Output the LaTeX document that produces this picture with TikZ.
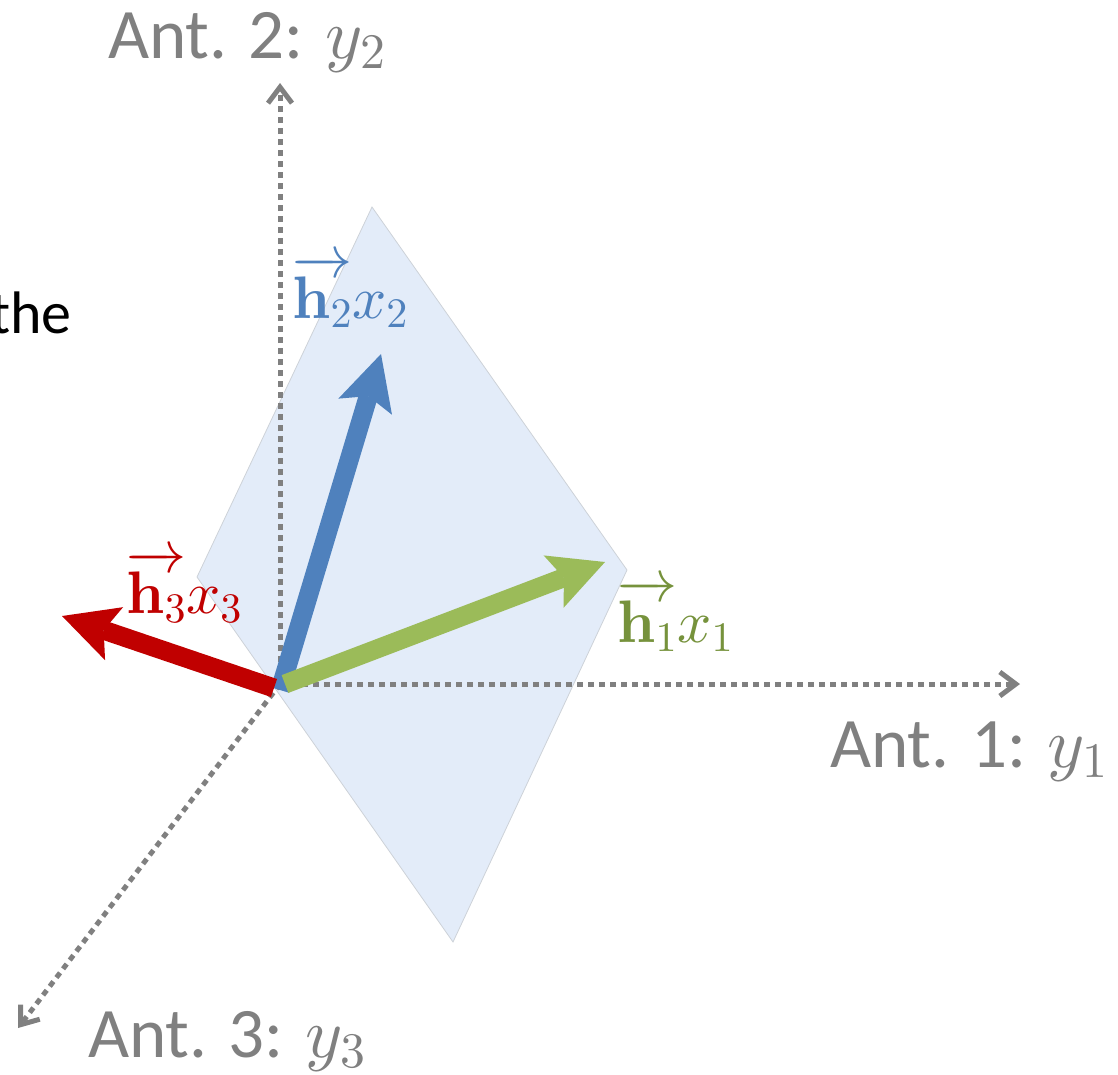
\documentclass[tikz,border=0pt]{standalone}
\usepackage[no-math]{fontspec}
\setmainfont{Carlito}
\DeclareFontShape{OML}{cmm}{m}{it}{<->cmmi10}{}
\DeclareFontShape{OML}{cmm}{b}{it}{<->cmmib10}{}
\DeclareFontShape{OT1}{cmr}{m}{n}{<->cmr10}{}
\DeclareFontShape{OT1}{cmr}{bx}{n}{<->cmbx10}{}
\DeclareFontShape{OMS}{cmsy}{m}{n}{<->cmsy10}{}
\DeclareFontShape{OMX}{cmex}{m}{n}{<->cmex10}{}
\usetikzlibrary{arrows.meta}
\definecolor{axisgray}{RGB}{128,128,128}
\definecolor{planeblue}{RGB}{227,236,249}
\definecolor{planeedge}{RGB}{205,210,216}
\definecolor{vblue}{RGB}{79,129,189}
\definecolor{vgreen}{RGB}{155,187,89}
\definecolor{lgreen}{RGB}{118,146,60}
\definecolor{vred}{RGB}{192,0,0}
\begin{document}
\begin{tikzpicture}[x=1pt,y=-1pt,
  axis/.style={draw=axisgray, line width=5pt, dash pattern=on 6pt off 5pt,
    -{Straight Barb[length=16pt,width=24pt]}},
  vec/.style={line width=19pt, line cap=butt,
    -{Stealth[length=55pt,width=56pt,inset=11pt,line width=0pt]}},
  axlabel/.style={text=axisgray, font=\fontsize{71}{80}\selectfont, inner sep=0pt, anchor=base west},
  veclabel/.style={font=\fontsize{60}{70}\selectfont, inner sep=0pt, anchor=base west},
]
\useasboundingbox (0,0) rectangle (1118,1074);

% plane
\filldraw[fill=planeblue, draw=planeedge, line width=0.8pt]
  (372,207) -- (627,570) -- (453,942) -- (197,577) -- cycle;

% axes
\coordinate (O) at (280,684);
\coordinate (Y1) at (1020,684);
\coordinate (Y2) at (280,83);
\coordinate (Y3) at (18,1028);
\draw[axis] (O) -- (Y2);
\draw[axis] (O) -- (Y1);
\draw[axis] (O) -- (Y3);

% vectors
\coordinate (Bt) at (280,690);
\coordinate (Bh) at (381,354);
\coordinate (Rt) at (274,688);
\coordinate (Rh) at (62,616);
\coordinate (Gt) at (285,684);
\coordinate (Gh) at (605,562);
\draw[vec, vblue] (Bt) -- (Bh);
\draw[vec, vred] (Rt) -- (Rh);
\draw[vec, vgreen] (Gt) -- (Gh);

% vector labels
\node[veclabel, text=vblue] (L2) at (292,318) {$\overrightarrow{\mathbf{h}_2}x_2$};
\node[veclabel, text=lgreen] (L1) at (617,642) {$\overrightarrow{\mathbf{h}_1}x_1$};
\node[veclabel, text=vred] (L3) at (126,613) {$\overrightarrow{\mathbf{h}_3}x_3$};

% axis labels
\node[axlabel] (T2) at (108,58) {Ant. 2: $y_2$};
\node[axlabel] (T1) at (830,767) {Ant. 1: $y_1$};
\node[axlabel] (T3) at (88,1057) {Ant. 3: $y_3$};
\node[font=\fontsize{60}{70}\selectfont, inner sep=0pt, anchor=base east] (the) at (72,333) {the};
\end{tikzpicture}
\end{document}
